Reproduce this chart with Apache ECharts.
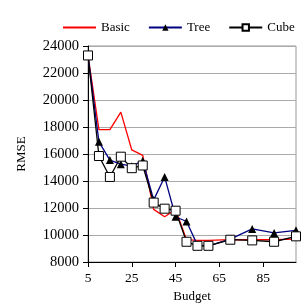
<!DOCTYPE html>
<html>
<head>
<meta charset="utf-8">
<script src="https://cdn.jsdelivr.net/npm/echarts@6/dist/echarts.min.js"></script>
<style>
  html, body { margin: 0; padding: 0; background: #fff; }
  #chart { width: 308px; height: 308px; }
</style>
</head>
<body>
<div id="chart"></div>
<script>
// budget values on the x axis
var budget = [5, 10, 15, 20, 25, 30, 35, 40, 45, 50, 55, 60, 70, 80, 90, 100]
var basic = [23300, 17800, 17800, 19100, 16300, 15900, 11900, 11350, 11900, 9650, 9600, 9600, 9650, 9650, 9650, 9700]
var tree = [23300, 16900, 15550, 15250, 15100, 15500, 12600, 14300, 11350, 11000, 9250, 9200, 9700, 10450, 10150, 10350]
var cube = [23300, 15850, 14300, 15800, 14950, 15150, 12400, 11950, 11800, 9500, 9200, 9200, 9650, 9600, 9500, 9900]
var xTicks = [5, 25, 45, 65, 85]

function pairs(vals) {
  return budget.map(function(b, i) { return [b, vals[i]] })
}

var font = '"Liberation Serif", "Times New Roman", serif'
var chart = echarts.init(document.getElementById('chart'), null, { renderer: 'canvas' })

chart.setOption({
  animation: false,
  textStyle: { fontFamily: font, color: '#000' },
  legend: {
    top: 16,
    left: 57,
    width: 251,
    itemWidth: 33,
    itemHeight: 8,
    itemGap: 18,
    textStyle: { fontFamily: font, fontSize: 13, color: '#000' },
    data: ['Basic', 'Tree', 'Cube']
  },
  grid: {
    left: 88,
    right: 12,
    top: 46,
    bottom: 46,
    show: true,
    borderColor: '#999',
    borderWidth: 1
  },
  xAxis: {
    type: 'value',
    min: 5,
    max: 100,
    interval: 20,
    name: 'Budget',
    nameLocation: 'middle',
    nameGap: 28,
    nameTextStyle: { fontFamily: font, fontSize: 13, color: '#000' },
    axisLine: { lineStyle: { color: '#000', width: 1 } },
    axisTick: { show: true, length: 5, inside: false, customValues: xTicks, lineStyle: { color: '#000' } },
    axisLabel: { fontFamily: font, fontSize: 13.5, color: '#000', margin: 9, customValues: xTicks },
    splitLine: { show: false }
  },
  yAxis: {
    type: 'value',
    min: 8000,
    max: 24000,
    interval: 2000,
    name: 'RMSE',
    nameLocation: 'middle',
    nameGap: 60,
    nameRotate: 90,
    nameTextStyle: { fontFamily: font, fontSize: 13, color: '#000' },
    axisLine: { show: true, lineStyle: { color: '#000', width: 1 } },
    axisTick: { show: true, length: 5, inside: false, lineStyle: { color: '#000' } },
    axisLabel: { fontFamily: font, fontSize: 14.5, color: '#000', margin: 9, formatter: function(v) { return String(v) } },
    splitLine: { show: true, lineStyle: { color: '#aaa', width: 1 } }
  },
  series: [
    {
      name: 'Basic',
      type: 'line',
      data: pairs(basic),
      symbol: 'none',
      lineStyle: { color: '#ff0000', width: 1.3 },
      itemStyle: { color: 'rgba(0,0,0,0)' }
    },
    {
      name: 'Tree',
      type: 'line',
      data: pairs(tree),
      symbol: 'triangle',
      symbolSize: 8,
      lineStyle: { color: '#000080', width: 1.3 },
      itemStyle: { color: '#000', borderColor: '#000', borderWidth: 0 }
    },
    {
      name: 'Cube',
      type: 'line',
      data: pairs(cube),
      symbol: 'rect',
      symbolSize: 9,
      lineStyle: { color: '#000', width: 1.3 },
      itemStyle: { color: '#fff', borderColor: '#000', borderWidth: 1 }
    }
  ]
})
</script>
</body>
</html>
